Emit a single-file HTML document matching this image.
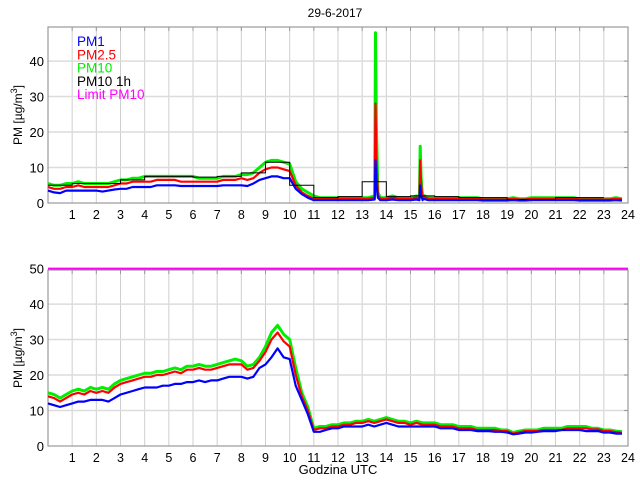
<!DOCTYPE html>
<html><head><meta charset="utf-8"><style>
body{margin:0;background:#fff;width:640px;height:480px;overflow:hidden}
svg{display:block;font-family:"Liberation Sans",sans-serif}
</style></head><body>
<svg id="c" width="640" height="480"></svg>
<script>
const stepHours=0.25;
const xTicks=[1,2,3,4,5,6,7,8,9,10,11,12,13,14,15,16,17,18,19,20,21,22,23,24];
const yTicksTop=[0,10,20,30,40];
const yTicksBottom=[0,10,20,30,40,50];
const topPM10=[
5.5,5,5,5.5, 5.5,6,5.5,5.5, 5.5,5.5,5.5,6, 6.5,6.5,7,7,
7.5,7.5,7.5,7.5, 7.5,7.5,7.5,7.5, 7.5,7,7,7, 7,7.5,7.5,7.5,
8,8,8.5,10, 11.5,12,12,11.5, 11,6,4,3, 2,1.5,1.5,1.5,
1.5,1.5,1.5,1.5, 1.5,1.5,2,1.5, 1.5,2,1.5,1.5, 1.5,2,1.5,1.5,
1.5,1.5,1.5,1.5, 1.5,1.5,1.5,1.5, 1.2,1.2,1.2,1.2, 1.2,1.5,1.2,1.2,
1.5,1.5,1.5,1.5, 1.5,1.5,1.5,1.5, 1.2,1.2,1.2,1.2, 1.2,1.2,1.5,1.2];
const topPM25=[
4.5,4,4,4.5, 4.5,5,4.5,4.5, 4.5,4.5,4.5,5, 5.5,5.5,6,6,
6,6,6.5,6.5, 6.5,6.5,6,6, 6,6,6,6, 6,6.5,6.5,6.5,
7,6.5,7,8.5, 9.5,10,10,9.5, 9,5,3,2, 1.2,1.2,1.2,1.2,
1.2,1.2,1.2,1.2, 1.2,1.2,1.5,1.2, 1.2,1.5,1.2,1.2, 1.2,1.5,1.2,1.2,
1.2,1.2,1.2,1.2, 1.2,1.2,1.2,1.2, 1,1,1,1, 1,1.2,1,1,
1.2,1.2,1.2,1.2, 1.2,1.2,1.2,1.2, 1,1,1,1, 1,1,1.2,1];
const topPM1=[
3.5,3,2.8,3.5, 3.5,3.5,3.5,3.5, 3.5,3.2,3.5,3.8, 4,4,4.5,4.5,
4.5,4.5,5,5, 5,5,4.8,4.8, 4.8,4.8,4.8,4.8, 4.8,5,5,5,
5,4.8,5.5,6.5, 7,7.5,7.5,7, 7,4,2.5,1.5, 0.8,0.8,0.8,0.8,
0.8,0.8,0.8,0.8, 0.8,0.8,1,0.8, 0.8,1,0.8,0.8, 0.8,1,0.8,0.8,
0.8,0.8,0.8,0.8, 0.8,0.8,0.8,0.8, 0.7,0.7,0.7,0.7, 0.7,0.8,0.7,0.7,
0.8,0.8,0.8,0.8, 0.8,0.8,0.8,0.8, 0.7,0.7,0.7,0.7, 0.7,0.7,0.8,0.7];
const spikeTimes=[13.55,15.4];
const spikePM10=[48,16];
const spikePM25=[28,12];
const spikePM1=[12,5];
const hourly1h=[5,5.5,5.5,6.5,7.5,7.5,7.3,7.5,8.5,11.5,5,1.5,1.8,6,1.8,2,1.8,1.5,1.5,1,1,1.5,1.5];
const botPM10=[
15,14.5,13.5,14.5, 15.5,16,15.5,16.5, 16,16.5,16,17.5, 18.5,19,19.5,20,
20.5,20.5,21,21, 21.5,22,21.5,22.5, 22.5,23,22.5,22.5, 23,23.5,24,24.5,
24,22.5,23,25, 28,32,34,31.5, 30,22,15,11, 5,5.5,5.5,6,
6,6.5,6.5,7, 7,7.5,7,7.5, 8,7.5,7,7, 6.5,7,6.5,6.5,
6.5,6,6,6, 5.5,5.5,5.5,5, 5,5,5,4.5, 4.5,3.8,4.2,4.5,
4.5,4.5,5,5, 5,5,5.5,5.5, 5.5,5.5,5,5, 4.5,4.5,4.2,4];
const botPM25=[
14,13.5,12.5,13.5, 14.5,15,14.5,15.5, 15,15.5,15,16.5, 17.5,18,18.5,19,
19.5,19.5,20,20, 20.5,21,20.5,21.5, 21.5,22,21.5,21.5, 22,22.5,23,23,
23,21.5,22,24, 26.5,30,32,29.5, 28,20,14,10, 4.5,5,5,5.5,
5.5,6,6,6.5, 6.5,7,6.5,7, 7.5,7,6.5,6.5, 6,6.5,6,6,
6,5.5,5.5,5.5, 5,5,5,4.5, 4.5,4.5,4.5,4.2, 4.2,3.5,3.8,4.2,
4.2,4.2,4.5,4.5, 4.5,4.5,5,5, 5,5,4.7,4.7, 4.2,4.2,3.9,3.7];
const botPM1=[
12,11.5,11,11.5, 12,12.5,12.5,13, 13,13,12.5,13.5, 14.5,15,15.5,16,
16.5,16.5,16.5,17, 17,17.5,17.5,18, 18,18.5,18,18.5, 18.5,19,19.5,19.5,
19.5,19,19.5,22, 23,25,27.5,25, 24.5,17,13,9, 4,4,4.5,5,
5,5.5,5.5,5.5, 5.5,6,5.5,6, 6.5,6,5.5,5.5, 5.5,5.5,5.5,5.5,
5.5,5,5,5, 4.5,4.5,4.5,4.2, 4.2,4.2,4,4, 3.8,3.3,3.5,3.8,
3.8,4,4.2,4.2, 4.2,4.5,4.5,4.5, 4.5,4.2,4.2,4.2, 3.8,3.8,3.5,3.5];
const limitPM10=50;

const NS='http://www.w3.org/2000/svg';
const svg=document.getElementById('c');
function mk(tag,attrs,parent){const e=document.createElementNS(NS,tag);for(const k in attrs)e.setAttribute(k,attrs[k]);(parent||svg).appendChild(e);return e;}
const X0=48,X1=628;
function xs(t){return X0+(X1-X0)*t/24;}
function timesFor(vals){return vals.map((v,i)=>i*stepHours);}

function panel(top,bottom,yTicks,name){
  const ys=v=>bottom-(bottom-top)*v/49.6;
  const g=mk('g',{});
  
  
  for(const t of xTicks){
    if(t<24){const l=mk('line',{x1:xs(t),x2:xs(t),y1:top,y2:bottom,stroke:'#cfcfcf','stroke-width':1},g);
    
    mk('line',{x1:xs(t),x2:xs(t),y1:top,y2:top+4,stroke:'#999'},g);}
    const tx=mk('text',{x:xs(t),y:bottom+16,'font-size':12.5,'text-anchor':'middle',fill:'#000'},g);
    tx.textContent=t;
    
  }
  for(const v of yTicks){
    if(v>0&&v<50){const l=mk('line',{x1:X0,x2:X1,y1:ys(v),y2:ys(v),stroke:'#dcdcdc','stroke-width':1.5},g);
    
    mk('line',{x1:X1-4,x2:X1,y1:ys(v),y2:ys(v),stroke:'#999'},g);}
    const tx=mk('text',{x:44,y:ys(v)+5,'font-size':13,'text-anchor':'end',fill:'#000'},g);
    tx.textContent=v;
    
  }
  const b=mk('rect',{x:X0,y:top,width:X1-X0,height:bottom-top,fill:'none',stroke:'#999','stroke-width':1.2},g);
  
  const yl=mk('text',{transform:`translate(22,${(top+bottom)/2}) rotate(-90)`,'font-size':12,'text-anchor':'middle'},g);
  yl.innerHTML='PM [µg/m<tspan dy="-5" font-size="9">3</tspan><tspan dy="5">]</tspan>';
  
  return {g,ys};
}
function series(p,times,vals,color,name,w){
  const d=times.map((t,i)=>(i?'L':'M')+xs(t).toFixed(1)+','+p.ys(vals[i]).toFixed(1)).join('');
  const e=mk('path',{d,fill:'none',stroke:color,'stroke-width':w||2,'stroke-linejoin':'round'},p.g);
  
}
function withSpikes(vals,spk){
  const tt=timesFor(vals);
  const pts=tt.map((t,i)=>[t,vals[i]]);
  spikeTimes.forEach((st,j)=>{
    let k=0;for(let i=0;i<tt.length;i++)if(Math.abs(tt[i]-st)<Math.abs(tt[k]-st))k=i;
    const base=vals[k];
    pts.push([st-0.03,base],[st,spk[j]],[st+0.04,spk[j]*0.45],[st+0.1,base*1.5]);
  });
  pts.sort((a,b)=>a[0]-b[0]);
  return [pts.map(p=>p[0]),pts.map(p=>p[1])];
}

const P1=panel(27,203,yTicksTop,'top-panel');
let s=withSpikes(topPM10,spikePM10);series(P1,s[0],s[1],'#00ee00','pm10-line-top',3);
s=withSpikes(topPM25,spikePM25);series(P1,s[0],s[1],'#ff0000','pm25-line-top',2.2);
s=withSpikes(topPM1,spikePM1);series(P1,s[0],s[1],'#0000ff','pm1-line-top',2.2);
let hd='';hourly1h.forEach((v,h)=>{hd+=(h?'L':'M')+xs(h)+','+P1.ys(v)+'L'+xs(h+1)+','+P1.ys(v);});
const hp=mk('path',{d:hd,fill:'none',stroke:'#000','stroke-width':1},P1.g);


const P2=panel(270,446,yTicksBottom,'bottom-panel');
series(P2,timesFor(botPM10),botPM10,'#00ee00','pm10-line-bottom',3);
series(P2,timesFor(botPM25),botPM25,'#ff0000','pm25-line-bottom',2.2);
series(P2,timesFor(botPM1),botPM1,'#0000ff','pm1-line-bottom',2.2);
const lim=mk('line',{x1:X0,x2:X1,y1:P2.ys(limitPM10),y2:P2.ys(limitPM10),stroke:'#ff00ff','stroke-width':2},P2.g);


const title=mk('text',{x:335,y:17,'font-size':12,'text-anchor':'middle'});
title.textContent='29-6-2017';

const xl=mk('text',{x:338,y:474,'font-size':13,'text-anchor':'middle'});
xl.textContent='Godzina UTC';


const legNames=['PM1','PM2.5','PM10','PM10 1h','Limit PM10'];
const legColors=['#0000ff','#ff0000','#00ee00','#000000','#ff00ff'];
legNames.forEach((n,i)=>{
  const t=mk('text',{x:77,y:46+i*13.3,'font-size':13.5,fill:legColors[i]});
  t.textContent=n;
  
});
</script>
</body></html>
